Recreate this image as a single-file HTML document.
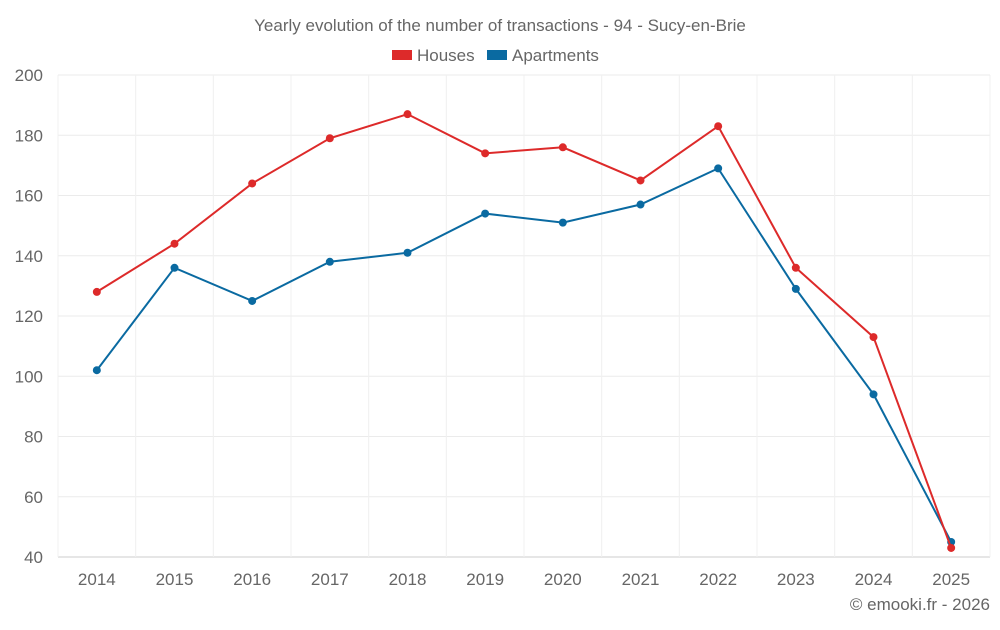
<!DOCTYPE html>
<html><head><meta charset="utf-8"><style>
body{margin:0;background:#fff;font-family:"Liberation Sans",sans-serif;}
svg text{font-family:"Liberation Sans",sans-serif;fill:#666;}
</style></head><body>
<svg id="chart" width="1000" height="625">
<text x="500" y="31" text-anchor="middle" font-size="17">Yearly evolution of the number of transactions - 94 - Sucy-en-Brie</text>
<g>
<g><rect x="392" y="50" width="20" height="10" fill="#dd2a2a"/><text x="417" y="61" font-size="17">Houses</text></g>
<g><rect x="487" y="50" width="20" height="10" fill="#0a6aa1"/><text x="512" y="61" font-size="17">Apartments</text></g>
</g>
<g id="grid"></g>
<g id="axes"></g>
<g id="series"></g>
<text x="990" y="610" text-anchor="end" font-size="17">© emooki.fr - 2026</text>
</svg>
<script>
const years=["2014","2015","2016","2017","2018","2019","2020","2021","2022","2023","2024","2025"];
const houses=[128,144,164,179,187,174,176,165,183,136,113,43];
const apartments=[102,136,125,138,141,154,151,157,169,129,94,45];
const yTicks=[40,60,80,100,120,140,160,180,200];
const NS="http://www.w3.org/2000/svg";
const L=58,R=990,T=75,B=557,ymin=40,ymax=200;
const bw=(R-L)/years.length;
const xs=i=>L+bw*(i+0.5);
const ys=v=>B-(v-ymin)/(ymax-ymin)*(B-T);
function mk(tag,attrs,parent){const e=document.createElementNS(NS,tag);for(const k in attrs)e.setAttribute(k,attrs[k]);parent.appendChild(e);return e;}
const grid=document.getElementById('grid'),axes=document.getElementById('axes'),ser=document.getElementById('series');
yTicks.forEach(t=>{
 const l=mk('line',{x1:L,x2:R,y1:ys(t),y2:ys(t),stroke:t===ymin?'#ccc':'#ebebeb'},grid);
 
 
 const tx=mk('text',{x:43,y:ys(t)+6,'text-anchor':'end','font-size':'17'},axes);tx.textContent=t;
 
 
});
for(let i=0;i<=years.length;i++){
 const l=mk('line',{x1:L+bw*i,x2:L+bw*i,y1:T,y2:B,stroke:'#f0f0f0'},grid);
 
 
}
years.forEach((y,i)=>{
 const tx=mk('text',{x:xs(i),y:585,'text-anchor':'middle','font-size':'17'},axes);tx.textContent=y;
 
 
});
function draw(vals,color,name){
 const p=mk('polyline',{points:vals.map((v,i)=>xs(i)+','+ys(v)).join(' '),fill:'none',stroke:color,'stroke-width':2},ser);
 
 
 vals.forEach((v,i)=>{
  const c=mk('circle',{cx:xs(i),cy:ys(v),r:4,fill:color},ser);
  
  
 });
}
draw(apartments,'#0a6aa1','apartments');
draw(houses,'#dd2a2a','houses');
</script>
</body></html>
